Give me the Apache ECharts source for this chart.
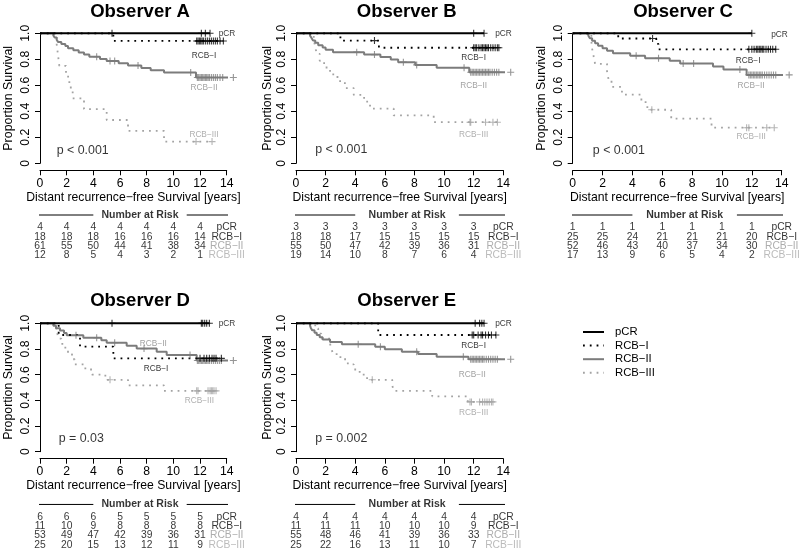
<!DOCTYPE html>
<html><head><meta charset="utf-8">
<script src="https://cdn.jsdelivr.net/npm/echarts@6/dist/echarts.min.js"></script>
<style>html,body{margin:0;padding:0;background:#fff}#c{width:800px;height:553px}</style>
</head><body><div id="c"></div>
<script>
// ---------- data ----------
const groups = ['pCR','RCB\u2212I','RCB\u2212II','RCB\u2212III'];
const panelTitles = ['Observer A','Observer B','Observer C','Observer D','Observer E'];
const pLabels = ['p < 0.001','p < 0.001','p < 0.001','p = 0.03','p = 0.002'];
const riskTimes = [0,2,4,6,8,10,12];
const xTicks = [0,2,4,6,8,10,12,14];

// Observer A
const A_pCR = [[0,1],[12.75,1]];
const A_pCR_cens = [12.1,12.4,12.75];
const A_RCB1 = [[0,1],[5.5,0.941],[13.75,0.941]];
const A_RCB1_cens = [5.4,11.75,11.85,11.95,12.05,12.15,12.25,12.4,12.55,12.7,12.85,13.0,13.15,13.3,13.5,13.75];
const A_RCB2 = [[0,1],[1.0,0.984],[1.1,0.967],[1.25,0.951],[1.35,0.934],[1.6,0.918],[1.9,0.902],[2.1,0.885],[2.5,0.869],[2.9,0.852],[3.3,0.836],[3.7,0.82],[4.5,0.803],[5.0,0.786],[5.9,0.769],[6.6,0.752],[7.6,0.734],[8.3,0.716],[9.3,0.698],[11.7,0.66],[14.5,0.66]];
const A_RCB2_cens = [4.25,5.25,5.6,7.35,11.3,11.8,11.9,12.0,12.1,12.2,12.3,12.4,12.5,12.6,12.7,12.85,13.0,13.15,13.3,13.5,13.7,14.5];
const A_RCB3 = [[0,1],[1.25,0.917],[1.35,0.833],[1.45,0.75],[1.95,0.667],[2.2,0.583],[2.45,0.5],[3.3,0.417],[5.0,0.333],[6.6,0.25],[9.3,0.167],[12.9,0.167]];
const A_RCB3_cens = [11.7,12.9];
const A_risk_pCR = [4,4,4,4,4,4,4];
const A_risk_RCB1 = [18,18,18,16,16,16,14];
const A_risk_RCB2 = [61,55,50,44,41,38,34];
const A_risk_RCB3 = [12,8,5,4,3,2,1];

// Observer B
const B_pCR = [[0,1],[12.7,1]];
const B_pCR_cens = [12.0,12.7];
const B_RCB1 = [[0,1],[3.0,0.944],[5.6,0.889],[13.7,0.889]];
const B_RCB1_cens = [5.3,12.0,12.1,12.2,12.35,12.5,12.6,12.7,12.8,12.9,13.0,13.15,13.3,13.45,13.6,13.7];
const B_RCB2 = [[0,1],[0.95,0.982],[1.05,0.964],[1.15,0.945],[1.3,0.927],[1.5,0.909],[1.8,0.891],[2.0,0.873],[2.5,0.855],[4.6,0.836],[5.7,0.817],[6.4,0.798],[6.9,0.778],[8.05,0.757],[9.5,0.735],[11.7,0.70],[14.5,0.70]];
const B_RCB2_cens = [4.1,5.3,7.25,8.15,11.35,11.8,11.9,12.0,12.1,12.2,12.3,12.4,12.5,12.6,12.7,12.8,12.9,13.0,13.1,13.25,13.4,13.55,13.7,14.5];
const B_RCB3 = [[0,1],[1.2,0.947],[1.3,0.895],[1.4,0.842],[1.6,0.789],[1.9,0.737],[2.3,0.684],[2.8,0.632],[3.3,0.579],[3.9,0.526],[4.6,0.474],[5.0,0.421],[6.6,0.368],[9.3,0.316],[13.6,0.316]];
const B_RCB3_cens = [11.75,11.8,12.8,13.3,13.6];
const B_risk_pCR = [3,3,3,3,3,3,3];
const B_risk_RCB1 = [18,18,17,15,15,15,15];
const B_risk_RCB2 = [55,50,47,42,39,36,31];
const B_risk_RCB3 = [19,14,10,8,7,6,4];

// Observer C
const C_pCR = [[0,1],[12.0,1]];
const C_pCR_cens = [12.0];
const C_RCB1 = [[0,1],[3.05,0.96],[5.6,0.918],[5.75,0.877],[13.6,0.877]];
const C_RCB1_cens = [5.35,11.8,12.0,12.15,12.3,12.4,12.5,12.6,12.7,12.8,12.95,13.1,13.25,13.4,13.6];
const C_RCB2 = [[0,1],[1.05,0.981],[1.15,0.962],[1.3,0.942],[1.5,0.923],[1.7,0.904],[2.0,0.885],[2.3,0.865],[2.7,0.846],[3.85,0.827],[4.85,0.808],[6.5,0.788],[7.2,0.768],[9.4,0.745],[10.1,0.722],[11.65,0.68],[14.5,0.68]];
const C_RCB2_cens = [4.25,5.75,7.4,8.1,11.2,11.8,11.9,12.0,12.1,12.2,12.3,12.4,12.5,12.6,12.7,12.85,13.0,13.15,13.3,13.45,13.6,14.5];
const C_RCB3 = [[0,1],[1.25,0.941],[1.3,0.882],[1.4,0.824],[1.5,0.765],[2.3,0.706],[2.4,0.647],[2.6,0.588],[3.3,0.529],[4.6,0.471],[5.0,0.412],[6.6,0.343],[9.3,0.274],[13.5,0.274]];
const C_RCB3_cens = [5.3,11.65,11.8,13.0,13.5];
const C_risk_pCR = [1,1,1,1,1,1,1];
const C_risk_RCB1 = [25,25,24,21,21,21,20];
const C_risk_RCB2 = [52,46,43,40,37,34,30];
const C_risk_RCB3 = [17,13,9,6,5,4,2];

// Observer D
const D_pCR = [[0,1],[12.7,1]];
const D_pCR_cens = [5.4,12.1,12.2,12.35,12.5,12.7];
const D_RCB1 = [[0,1],[1.4,0.909],[3.0,0.818],[5.5,0.727],[13.6,0.727]];
const D_RCB1_cens = [12.0,12.3,12.5,12.7,12.9,13.05,13.2,13.6];
const D_RCB2 = [[0,1],[1.0,0.981],[1.2,0.962],[1.5,0.943],[1.8,0.925],[2.0,0.906],[3.25,0.887],[4.6,0.868],[5.0,0.849],[6.5,0.826],[7.25,0.803],[8.75,0.779],[9.5,0.754],[11.75,0.71],[14.5,0.71]];
const D_RCB2_cens = [2.7,4.25,5.6,7.8,11.25,11.8,11.9,12.0,12.1,12.2,12.3,12.4,12.5,12.6,12.7,12.85,13.0,13.15,13.3,13.45,13.6,14.5];
const D_RCB3 = [[0,1],[1.1,0.96],[1.3,0.92],[1.4,0.88],[1.6,0.84],[1.9,0.80],[2.1,0.76],[2.4,0.72],[2.6,0.68],[3.4,0.64],[3.9,0.60],[4.9,0.56],[6.6,0.517],[9.3,0.474],[13.2,0.474]];
const D_RCB3_cens = [5.25,11.75,11.85,12.6,12.75,12.85,12.95,13.05,13.2];
const D_risk_pCR = [6,6,6,5,5,5,5];
const D_risk_RCB1 = [11,10,9,8,8,8,8];
const D_risk_RCB2 = [53,49,47,42,39,36,31];
const D_risk_RCB3 = [25,20,15,13,12,11,9];

// Observer E
const E_pCR = [[0,1],[12.7,1]];
const E_pCR_cens = [12.1,12.4,12.55,12.7];
const E_RCB1 = [[0,1],[5.55,0.909],[13.5,0.909]];
const E_RCB1_cens = [11.9,12.0,12.3,12.5,12.6,12.8,13.0,13.2,13.5];
const E_RCB2 = [[0,1],[0.95,0.982],[1.0,0.964],[1.1,0.945],[1.25,0.927],[1.4,0.909],[1.6,0.891],[1.8,0.873],[2.3,0.855],[3.1,0.836],[5.35,0.817],[6.0,0.798],[7.15,0.779],[8.25,0.76],[9.5,0.74],[11.65,0.72],[14.5,0.72]];
const E_RCB2_cens = [4.2,5.7,8.15,11.3,11.8,11.9,12.0,12.1,12.2,12.3,12.4,12.5,12.6,12.7,12.85,13.0,13.15,13.3,13.45,13.6,14.5];
const E_RCB3 = [[0,1],[1.3,0.96],[1.5,0.92],[1.7,0.88],[2.3,0.84],[2.4,0.80],[2.5,0.76],[3.0,0.72],[3.5,0.68],[3.9,0.64],[4.3,0.60],[4.8,0.56],[6.5,0.517],[6.6,0.474],[9.2,0.431],[11.6,0.388],[13.3,0.388]];
const E_RCB3_cens = [5.15,11.75,11.85,12.4,12.6,12.75,12.9,13.05,13.2,13.3];
const E_risk_pCR = [4,4,4,4,4,4,4];
const E_risk_RCB1 = [11,11,11,10,10,10,9];
const E_risk_RCB2 = [55,48,46,41,39,36,33];
const E_risk_RCB3 = [25,22,16,13,11,10,7];

// ---------- assembly ----------
const panels = [
  {steps:[A_pCR,A_RCB1,A_RCB2,A_RCB3], cens:[A_pCR_cens,A_RCB1_cens,A_RCB2_cens,A_RCB3_cens], risk:[A_risk_pCR,A_risk_RCB1,A_risk_RCB2,A_risk_RCB3]},
  {steps:[B_pCR,B_RCB1,B_RCB2,B_RCB3], cens:[B_pCR_cens,B_RCB1_cens,B_RCB2_cens,B_RCB3_cens], risk:[B_risk_pCR,B_risk_RCB1,B_risk_RCB2,B_risk_RCB3]},
  {steps:[C_pCR,C_RCB1,C_RCB2,C_RCB3], cens:[C_pCR_cens,C_RCB1_cens,C_RCB2_cens,C_RCB3_cens], risk:[C_risk_pCR,C_risk_RCB1,C_risk_RCB2,C_risk_RCB3]},
  {steps:[D_pCR,D_RCB1,D_RCB2,D_RCB3], cens:[D_pCR_cens,D_RCB1_cens,D_RCB2_cens,D_RCB3_cens], risk:[D_risk_pCR,D_risk_RCB1,D_risk_RCB2,D_risk_RCB3]},
  {steps:[E_pCR,E_RCB1,E_RCB2,E_RCB3], cens:[E_pCR_cens,E_RCB1_cens,E_RCB2_cens,E_RCB3_cens], risk:[E_risk_pCR,E_risk_RCB1,E_risk_RCB2,E_risk_RCB3]}
];

// layout (pixels) and annotation placement (data coords)
const layout = [
  {left:40,    width:186.7, top:33.3,  height:130,   riskTop:208.4,  riskH:47.25, tx:140,   ty:12,  yGap:25},
  {left:296,   width:207.3, top:33.3,  height:130,   riskTop:208.4,  riskH:47.25, tx:406.7, ty:12,  yGap:22},
  {left:572.7, width:209,   top:33.3,  height:130,   riskTop:208.4,  riskH:47.25, tx:683,   ty:12,  yGap:25},
  {left:40,    width:186.7, top:323.3, height:128.4, riskTop:497.85, riskH:47.15, tx:140,   ty:301, yGap:25},
  {left:296,   width:207.3, top:323.3, height:128.4, riskTop:497.85, riskH:47.15, tx:406.7, ty:301, yGap:22}
];
const annot = [
  [[13.4,1.0,'left'],[12.3,0.83,'center'],[12.3,0.58,'center'],[12.3,0.22,'center'],[1.25,0.10,'left']],
  [[13.45,1.0,'left'],[12.0,0.815,'center'],[12.0,0.595,'center'],[12.0,0.218,'center'],[1.3,0.103,'left']],
  [[13.3,0.99,'left'],[11.75,0.79,'center'],[11.95,0.595,'center'],[11.95,0.205,'center'],[1.35,0.10,'left']],
  [[13.4,1.0,'left'],[8.7,0.644,'center'],[8.5,0.844,'center'],[11.95,0.40,'center'],[1.4,0.104,'left']],
  [[13.45,1.0,'left'],[12.0,0.826,'center'],[11.9,0.597,'center'],[12.0,0.30,'center'],[1.3,0.10,'left']]
];

const FF = "'Liberation Sans', Arial, Helvetica, sans-serif";
const lineStyles = [
  {color:'#000000', width:2,   type:'solid'},
  {color:'#000000', width:1.8, type:[1.8,5]},
  {color:'#7c7c7c', width:2,   type:'solid'},
  {color:'#a3a3a3', width:1.8, type:[1.8,5]}
];
const annotColors = ['#000000','#000000','#8a8a8a','#9a9a9a'];
const riskLabelColors = ['#000000','#000000','#999999','#aaaaaa'];

function levelAt(steps, t) {
  let s = steps[0][1];
  for (const p of steps) { if (p[0] <= t + 1e-9) s = p[1]; }
  return s;
}

const grids = [], xAxes = [], yAxes = [], series = [], graphics = [];

layout.forEach((L, p) => {
  grids.push({left:L.left, top:L.top, width:L.width, height:L.height, containLabel:false, outerBoundsMode:'none'});
  xAxes.push({
    gridIndex:p, type:'value', min:0, max:14, interval:2, offset:7,
    axisLine:{show:true, onZero:false, lineStyle:{color:'#000', width:1}},
    axisTick:{show:true, length:5, lineStyle:{color:'#000', width:1}},
    axisLabel:{show:true, fontSize:12.2, color:'#000', margin:7, fontFamily:FF},
    splitLine:{show:false},
    name:'Distant recurrence\u2212free Survival [years]', nameLocation:'middle', nameGap:21,
    nameTextStyle:{fontSize:12.2, color:'#000', fontFamily:FF}
  });
  yAxes.push({
    gridIndex:p, type:'value', min:0, max:1, interval:0.2,
    axisLine:{show:true, lineStyle:{color:'#000', width:1}},
    axisTick:{show:true, length:5, lineStyle:{color:'#000', width:1}},
    axisLabel:{show:true, rotate:90, fontSize:12.2, color:'#000', margin:8, fontFamily:FF,
      formatter: v => (Math.abs(v) < 1e-9 ? '0' : v.toFixed(1))},
    splitLine:{show:false},
    name:'Proportion Survival', nameLocation:'middle', nameGap:L.yGap, nameRotate:90,
    nameTextStyle:{fontSize:12.4, color:'#000', fontFamily:FF}
  });
});
layout.forEach((L, p) => {
  grids.push({left:L.left, top:L.riskTop, width:L.width, height:L.riskH, containLabel:false, outerBoundsMode:'none'});
  xAxes.push({gridIndex:5+p, type:'value', min:0, max:14, show:false});
  yAxes.push({gridIndex:5+p, type:'value', min:-1, max:4, inverse:true, show:false});
});

panels.forEach((P, p) => {
  // curves (draw RCB-III first so pCR ends on top)
  for (let g = 3; g >= 0; g--) {
    const ls = lineStyles[g];
    series.push({
      type:'line', name:groups[g], xAxisIndex:p, yAxisIndex:p, data:P.steps[g],
      step:'end', symbol:'none', clip:false, silent:true,
      lineStyle:{color:ls.color, width:ls.width, type:ls.type},
      itemStyle:{color:ls.color}, z:2
    });
    series.push({
      type:'scatter', name:'cens'+p+'_'+g, xAxisIndex:p, yAxisIndex:p,
      data:P.cens[g].map(t => [t, levelAt(P.steps[g], t)]),
      symbol:'path://M5,0L5,10M0,5L10,5', symbolSize:7, clip:false, silent:true,
      itemStyle:{color:'none', borderColor:ls.color, borderWidth:1.1}, z:3
    });
  }
  // in-plot annotations
  const A = annot[p];
  const annData = [];
  for (let g = 0; g < 4; g++) {
    annData.push({value:[A[g][0], A[g][1]], txt:groups[g],
      label:{align:A[g][2], color:annotColors[g], fontSize:8.3}});
  }
  annData.push({value:[A[4][0], A[4][1]], txt:pLabels[p], label:{align:'left', color:'#000', fontSize:12.4}});
  series.push({
    type:'scatter', name:'ann'+p, xAxisIndex:p, yAxisIndex:p, data:annData,
    symbolSize:0, clip:false, silent:true, itemStyle:{color:'transparent'},
    label:{show:true, position:'inside', verticalAlign:'middle', fontFamily:FF, formatter: q => q.data.txt}
  });
  // risk table
  const rData = [];
  for (let g = 0; g < 4; g++) {
    riskTimes.forEach((t, i) => {
      rData.push({value:[t, g+1], txt:String(P.risk[g][i]), label:{color:'#000'}});
    });
    rData.push({value:[14, g+1], txt:groups[g], label:{color:riskLabelColors[g]}});
  }
  rData.push({value:[7.5, -0.3], txt:'Number at Risk', label:{color:'#000', fontWeight:'bold', fontSize:10.5}});
  series.push({
    type:'scatter', name:'risk'+p, xAxisIndex:5+p, yAxisIndex:5+p, data:rData,
    symbolSize:0, clip:false, silent:true, itemStyle:{color:'transparent'},
    label:{show:true, position:'inside', align:'center', verticalAlign:'middle', fontSize:10.3, fontFamily:FF,
      formatter: q => q.data.txt}
  });
  [[[-0.6,-0.3],[4.0,-0.3]], [[11.0,-0.3],[14.5,-0.3]]].forEach((seg, k) => {
    series.push({
      type:'line', name:'rule'+p+'_'+k, xAxisIndex:5+p, yAxisIndex:5+p, data:seg,
      symbol:'none', clip:false, silent:true, lineStyle:{color:'#000', width:1}
    });
  });
  graphics.push({
    type:'text', x:layout[p].tx, y:layout[p].ty, silent:true,
    style:{text:panelTitles[p], fill:'#000', font:"bold 18.5px " + FF,
      align:'center', verticalAlign:'middle', textAlign:'center', textVerticalAlign:'middle'}
  });
});

const option = {
  animation:false,
  textStyle:{fontFamily:FF},
  grid:grids, xAxis:xAxes, yAxis:yAxes,
  legend:{
    data:groups, orient:'vertical', left:582, top:326.5, padding:0,
    itemWidth:21, itemHeight:12, itemGap:2.6, selectedMode:false,
    itemStyle:{opacity:0, color:'transparent', borderWidth:0},
    textStyle:{fontSize:11.3, color:'#000', fontFamily:FF, padding:[0,0,0,6]}
  },
  graphic:graphics,
  series:series
};
const chart = echarts.init(document.getElementById('c'), null, {renderer:'canvas'});
chart.setOption(option);
</script></body></html>
